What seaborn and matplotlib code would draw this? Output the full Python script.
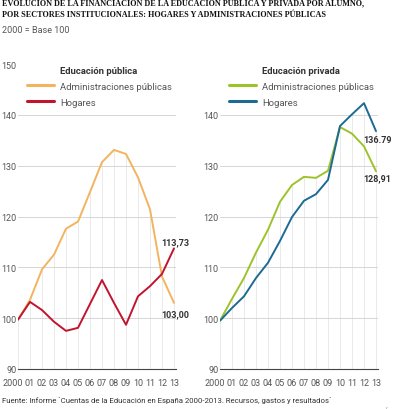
import numpy as np
import pandas as pd
import matplotlib
matplotlib.use("Agg")
import matplotlib.pyplot as plt
import matplotlib.transforms as mtransforms
import seaborn as sns

# Values (2000 = base 100)
years = list(range(2000, 2014))
year_labels = ["2000", "01", "02", "03", "04", "05", "06", "07", "08", "09", "10", "11", "12", "13"]

publica_admin = [99.7, 103.6, 109.6, 112.5, 117.6, 119.0, 124.8, 130.7, 133.1, 132.3, 127.7, 121.4, 108.2, 103.00]
publica_hogares = [99.7, 103.2, 101.6, 99.3, 97.5, 98.1, 102.8, 107.5, 103.0, 98.7, 104.3, 106.3, 108.7, 113.73]
privada_admin = [99.5, 103.8, 107.9, 112.9, 117.4, 122.9, 126.2, 127.8, 127.6, 129.0, 137.6, 136.3, 133.8, 128.91]
privada_hogares = [99.5, 102.0, 104.3, 107.9, 110.9, 115.2, 119.9, 123.1, 124.4, 127.2, 137.8, 140.1, 142.3, 136.79]

series_labels = ["Administraciones públicas", "Hogares"]
end_labels_publica = ["103,00", "113,73"]
end_labels_privada = ["128,91", "136.79"]
grid_levels = [100, 110, 120, 130, 140]

W, H = 394, 410
SANS = ["Roboto", "DejaVu Sans"]
TEXT_GREY = "#555555"
FS = 6.5


def fx(px):
    return px / W


def fy(py):
    return 1 - py / H


def draw_panel(fig, ax, admin, hogares, colors, title, end_labels, label_offsets, yticks):
    df = pd.DataFrame({
        "year": years * 2,
        "value": admin + hogares,
        "sector": [series_labels[0]] * len(years) + [series_labels[1]] * len(years),
    })

    # faint vertical guides up to the highest line
    ax.vlines(years, 90, np.maximum(admin, hogares), color="#e6e6e6", lw=0.6, zorder=0)
    for v in grid_levels:
        ax.axhline(v, color="#d6d6d6", lw=0.7, zorder=0)

    sns.lineplot(data=df, x="year", y="value", hue="sector", palette=colors,
                 linewidth=1.4, ax=ax, legend=False)

    ax.set_xlim(2000, 2013.125)
    ax.set_ylim(90, 150)
    ax.set_xticks(years)
    ax.set_xticklabels(year_labels)
    ax.set_yticks(yticks)
    ax.tick_params(axis="both", length=0, labelsize=FS, labelcolor=TEXT_GREY)
    ax.tick_params(axis="y", pad=1)
    ax.tick_params(axis="x", pad=6.5)
    for lab in ax.get_xticklabels() + ax.get_yticklabels():
        lab.set_family(SANS)
    # "2000" sits a bit left of its tick in the original
    first = ax.get_xticklabels()[0]
    first.set_transform(first.get_transform() +
                        mtransforms.ScaledTranslation(-5 / 100, 0, fig.dpi_scale_trans))
    ax.set_xlabel("")
    ax.set_ylabel("")
    for side in ["top", "right", "left"]:
        ax.spines[side].set_visible(False)
    ax.spines["bottom"].set_color("#444444")
    ax.spines["bottom"].set_linewidth(0.8)

    # end labels
    for vals, txt, off in zip([admin, hogares], end_labels, label_offsets):
        ax.annotate(txt, (years[-1], vals[-1]), xytext=off, textcoords="offset points",
                    ha="center", va="center", fontsize=FS, fontweight="bold",
                    color="#333333", family=SANS)

    # legend with the group title as a bold first entry
    lines = ax.get_lines()[-2:]
    blank = plt.Line2D([], [], color="none")
    leg = ax.legend([blank] + list(lines), [title] + series_labels,
                    loc="upper left", bbox_to_anchor=(0.06, 0.995), frameon=False,
                    prop={"family": SANS, "size": FS + 0.3}, handlelength=2.8,
                    handletextpad=0.65, labelspacing=0.75, borderpad=0, borderaxespad=0)
    for line in leg.get_lines():
        line.set_linewidth(2.2)
    texts = leg.get_texts()
    texts[0].set_fontweight("bold")
    texts[0].set_color("#333333")
    for t in texts[1:]:
        t.set_color(TEXT_GREY)


sns.set_style("white")
plt.rcParams["font.family"] = SANS

fig = plt.figure(figsize=(W / 100, H / 100), dpi=100)
ax_left = fig.add_axes([fx(18), fy(370), fx(157.5), (370 - 65) / H])
ax_right = fig.add_axes([fx(220), fy(370), fx(157.5), (370 - 65) / H])

draw_panel(fig, ax_left, publica_admin, publica_hogares, ["#F2B45E", "#C1142E"],
           "Educación pública", end_labels_publica, [(1, -8), (1, 5)],
           [90, 100, 110, 120, 130, 140, 150])
draw_panel(fig, ax_right, privada_admin, privada_hogares, ["#9DC32A", "#1D6A93"],
           "Educación privada", end_labels_privada, [(1, -5), (1, -6)],
           [90, 100, 110, 120, 130, 140])

TITLE_FONT = dict(family="Liberation Serif", fontweight="bold",
                  fontsize=5.9, color="#111111", va="baseline")
fig.text(fx(2), fy(6), "EVOLUCIÓN DE LA FINANCIACIÓN DE LA EDUCACIÓN PÚBLICA Y PRIVADA POR ALUMNO,", **TITLE_FONT)
fig.text(fx(2), fy(17), "POR SECTORES INSTITUCIONALES: HOGARES Y ADMINISTRACIONES PÚBLICAS", **TITLE_FONT)
fig.text(fx(2), fy(33), "2000 = Base 100", fontsize=FS, color=TEXT_GREY, va="baseline")
fig.text(fx(2), fy(403), "Fuente: Informe `Cuentas de la Educación en España 2000-2013. Recursos, gastos y resultados´",
         fontsize=5.6, color="#333333", va="baseline")
fig.text(fx(2), fy(414), "elaborado por la Fundación BBVA y el IVIE",
         fontsize=5.6, color="#333333", va="baseline")
fig.text(fx(392), fy(414), "EL PAÍS", fontsize=5.6, color="#333333", va="baseline", ha="right")

fig.savefig("out.png", dpi=100)
